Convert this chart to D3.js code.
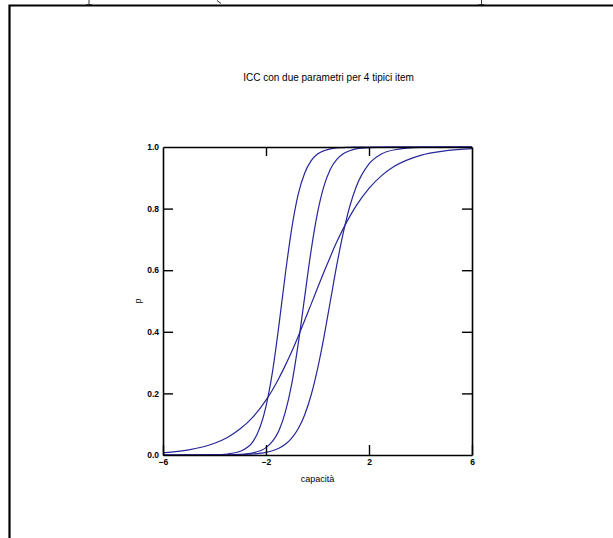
<!DOCTYPE html>
<html>
<head>
<meta charset="utf-8">
<script src="https://cdn.jsdelivr.net/npm/d3@7/dist/d3.min.js"></script>
<style>
  html, body { margin: 0; padding: 0; background: #fff; }
  svg { display: block; }
</style>
</head>
<body>
<svg id="chart" width="613" height="538"></svg>
<script>
// ---- data ----
const theta = [-6, -5, -4, -3.5, -3, -2.5, -2, -1.75, -1.5, -1.25, -1, -0.75, -0.5, -0.25, 0, 0.25, 0.5, 0.75, 1, 1.25, 1.5, 2, 2.5, 3, 4, 5, 6];
const itemA = [0.0000, 0.0001, 0.0009, 0.0033, 0.012, 0.044, 0.158, 0.269, 0.420, 0.587, 0.736, 0.846, 0.915, 0.955, 0.977, 0.988, 0.994, 0.997, 0.998, 0.999, 1.000, 1.000, 1.000, 1.000, 1.000, 1.000, 1.000];
const itemB = [0.0000, 0.0000, 0.0002, 0.0006, 0.002, 0.007, 0.024, 0.044, 0.079, 0.139, 0.231, 0.360, 0.512, 0.663, 0.786, 0.873, 0.928, 0.960, 0.978, 0.988, 0.994, 0.998, 0.999, 1.000, 1.000, 1.000, 1.000];
const itemC = [0.0000, 0.0000, 0.0002, 0.0005, 0.0013, 0.0033, 0.0086, 0.0137, 0.022, 0.035, 0.055, 0.085, 0.130, 0.194, 0.279, 0.383, 0.500, 0.617, 0.721, 0.806, 0.870, 0.945, 0.978, 0.991, 0.999, 1.000, 1.000];
const itemD = [0.0072, 0.0166, 0.038, 0.057, 0.085, 0.124, 0.178, 0.211, 0.249, 0.291, 0.336, 0.385, 0.437, 0.489, 0.542, 0.594, 0.644, 0.692, 0.735, 0.774, 0.809, 0.866, 0.908, 0.938, 0.973, 0.988, 0.995];
const seriesList = [itemA, itemB, itemC, itemD];
const xTicks = [-6, -2, 2, 6];
const yTicks = [0, 0.2, 0.4, 0.6, 0.8, 1.0];
const titleText = "ICC con due parametri per 4 tipici item";
const xLabel = "capacità";
const yLabel = "p";

// ---- drawing ----
const svg = d3.select("#chart");
const box = {left: 163, right: 472, top: 147, bottom: 455};

// outer frame (page border of the screenshot)
svg.append("path")
  .attr("d", "M9.5,538 L9.5,5.5 L613,5.5")
  .attr("fill", "none").attr("stroke", "#000").attr("stroke-width", 2.2);
// small glyph remnants above the frame
svg.append("path").attr("d", "M86,4.5 L92,4.5 M89,0 L89,4.5 M478.5,4.5 L484.5,4.5 M481.5,0 L481.5,4.5 M217,0.5 L221,3.5")
  .attr("fill", "none").attr("stroke", "#333").attr("stroke-width", 1);

const x = d3.scaleLinear().domain([-6, 6]).range([box.left, box.right]);
const y = d3.scaleLinear().domain([0, 1]).range([box.bottom, box.top]);

const tickFont = "Liberation Sans, Arial, sans-serif";

// curves
const line = d3.line()
  .x((d, i) => x(theta[i]))
  .y(d => y(d))
  .curve(d3.curveMonotoneX);

svg.append("g").selectAll("path").data(seriesList).join("path")
  .attr("d", d => line(d))
  .attr("fill", "none")
  .attr("stroke", "#26269a")
  .attr("stroke-width", 1.2);

// axes
const axisBottom = d3.axisBottom(x).tickValues(xTicks).tickSizeInner(-10).tickSizeOuter(0).tickPadding(4).tickFormat(d3.format("d"));
const axisTop = d3.axisTop(x).tickValues([-2, 2]).tickSizeInner(-9).tickSizeOuter(0).tickFormat("");
const axisLeft = d3.axisLeft(y).tickValues(yTicks).tickSizeInner(-10).tickSizeOuter(0).tickPadding(4).tickFormat(d3.format(".1f"));
const axisRight = d3.axisRight(y).tickValues([0.2, 0.4, 0.6, 0.8]).tickSizeInner(-10).tickSizeOuter(0).tickFormat("");

function style(g) {
  g.select(".domain").attr("stroke", "#000").attr("stroke-width", 1.6);
  g.selectAll(".tick line").attr("stroke", "#000").attr("stroke-width", 1.4);
  g.selectAll(".tick text").attr("fill", "#000").attr("font-family", tickFont).attr("font-size", 8.5).attr("font-weight", "bold");
}

svg.append("g").attr("transform", `translate(0,${box.bottom})`).call(axisBottom).call(style)
  .selectAll(".tick text").attr("y", 4).attr("dy", "0.71em");
svg.append("g").attr("transform", `translate(0,${box.top})`).call(axisTop).call(style);
svg.append("g").attr("transform", `translate(${box.left},0)`).call(axisLeft).call(style)
  .selectAll(".tick line").filter(d => d === 0 || d === 1).remove();
svg.append("g").attr("transform", `translate(${box.right},0)`).call(axisRight).call(style);

// title and labels
svg.append("text")
  .attr("x", (box.left + box.right) / 2 + 11).attr("y", 81)
  .attr("text-anchor", "middle")
  .attr("font-family", "Liberation Sans, Arial, sans-serif")
  .attr("font-size", 10)
  .attr("fill", "#000")
  .text(titleText);

svg.append("text")
  .attr("x", (box.left + box.right) / 2).attr("y", 482)
  .attr("text-anchor", "middle")
  .attr("font-family", tickFont)
  .attr("font-size", 9)
  .attr("fill", "#000")
  .text(xLabel);

svg.append("text")
  .attr("transform", "translate(141,301) rotate(-90)")
  .attr("text-anchor", "middle")
  .attr("font-family", tickFont)
  .attr("font-size", 8.5)
  .attr("fill", "#000")
  .text(yLabel);
</script>
</body>
</html>
